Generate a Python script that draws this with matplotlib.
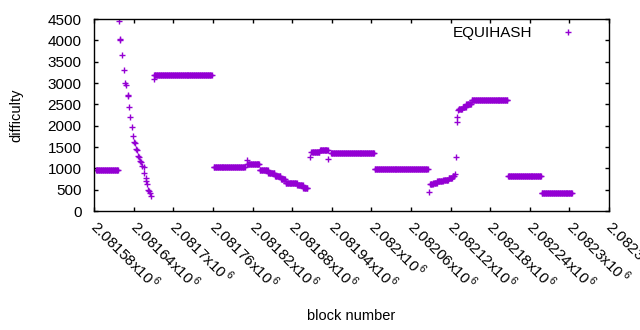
import numpy as np
import matplotlib
matplotlib.use('Agg')
import matplotlib.pyplot as plt

plt.rcParams['font.family'] = ['Liberation Sans', 'DejaVu Sans']
plt.rcParams['mathtext.fontset'] = 'custom'
plt.rcParams['mathtext.rm'] = 'Liberation Sans'

# plateaus: first block, last block, difficulty
seg_start = [2081583, 2081671, 2081761, 2081812, 2081831, 2081844, 2081854, 2081863,
             2081870, 2081888, 2081897, 2081909, 2081922, 2081939, 2082005, 2082089,
             2082094, 2082100, 2082109, 2082117, 2082123, 2082132, 2082138, 2082144,
             2082152, 2082207, 2082258]
seg_end = [2081616, 2081758, 2081808, 2081830, 2081843, 2081853, 2081862, 2081869,
           2081887, 2081896, 2081903, 2081921, 2081934, 2082004, 2082085, 2082093,
           2082099, 2082108, 2082116, 2082122, 2082125, 2082137, 2082143, 2082151,
           2082206, 2082257, 2082304]
seg_level = [960, 3180, 1024, 1102, 961, 883, 820, 757,
             663, 602, 532, 1390, 1430, 1352, 977, 625,
             663, 696, 727, 766, 820, 2384, 2445, 2508,
             2602, 820, 415]

# single blocks (the drop after the first plateau and stray points)
pt_block = [2081617, 2081619, 2081620, 2081623, 2081625, 2081627, 2081628, 2081631,
            2081632, 2081633, 2081635, 2081637, 2081639, 2081641, 2081642, 2081644,
            2081645, 2081647, 2081648, 2081650, 2081651, 2081653, 2081655, 2081656,
            2081658, 2081659, 2081660, 2081662, 2081663, 2081664, 2081666,
            2081670, 2081811, 2081907, 2081935, 2082087, 2082127, 2082128, 2082129,
            2082130, 2082131]
pt_diff = [4447, 4040, 4010, 3664, 3305, 2993, 2960, 2720,
           2690, 2445, 2196, 1976, 1758, 1620, 1590, 1460,
           1430, 1290, 1260, 1170, 1140, 1050, 1030, 883,
           766, 700, 633, 500, 470, 430, 352,
           3087, 1190, 1258, 1230, 438, 860, 1273, 2094,
           2210, 2367]

xticks = np.arange(2081580, 2082361, 60)
yticks = np.arange(0, 4501, 500)

blocks = list(pt_block)
diffs = list(pt_diff)
for s, e, v in zip(seg_start, seg_end, seg_level):
    for b in range(s, e + 1):
        blocks.append(b)
        diffs.append(v)

fig = plt.figure(figsize=(6.4, 3.3), dpi=100)
ax = fig.add_axes([0.147, 0.3606, 0.8047, 0.5818])
ax.plot(blocks, diffs, linestyle='none', marker='+', markersize=5,
        markeredgewidth=1.0, color='#9400D3', label='EQUIHASH')

ax.set_xlim(xticks[0], xticks[-1])
ax.set_ylim(0, 4500)
ax.set_yticks(yticks)
ax.set_xticks(xticks)
ax.set_xticklabels(['%gx10$^{\\,6}$' % (t / 1e6) for t in xticks],
                   rotation=-45, ha='left', va='center', rotation_mode='anchor')
ax.tick_params(direction='in', length=3, width=1, top=True, right=True,
               labelsize=11, colors='black')
ax.tick_params(axis='x', pad=9)
ax.tick_params(axis='y', pad=9)
for sp in ax.spines.values():
    sp.set_linewidth(1)

ax.set_ylabel('difficulty', fontsize=10.5)
ax.set_xlabel('block number', fontsize=10.5)
ax.xaxis.set_label_coords(0.5, -0.51)
ax.yaxis.set_label_coords(-0.138, 0.5)

ax.legend(loc='upper right', frameon=False, markerfirst=False, fontsize=11,
          handlelength=2.5, handletextpad=1.1, borderaxespad=0.2,
          bbox_to_anchor=(0.975, 1.01))

fig.savefig('out.png', dpi=100)
